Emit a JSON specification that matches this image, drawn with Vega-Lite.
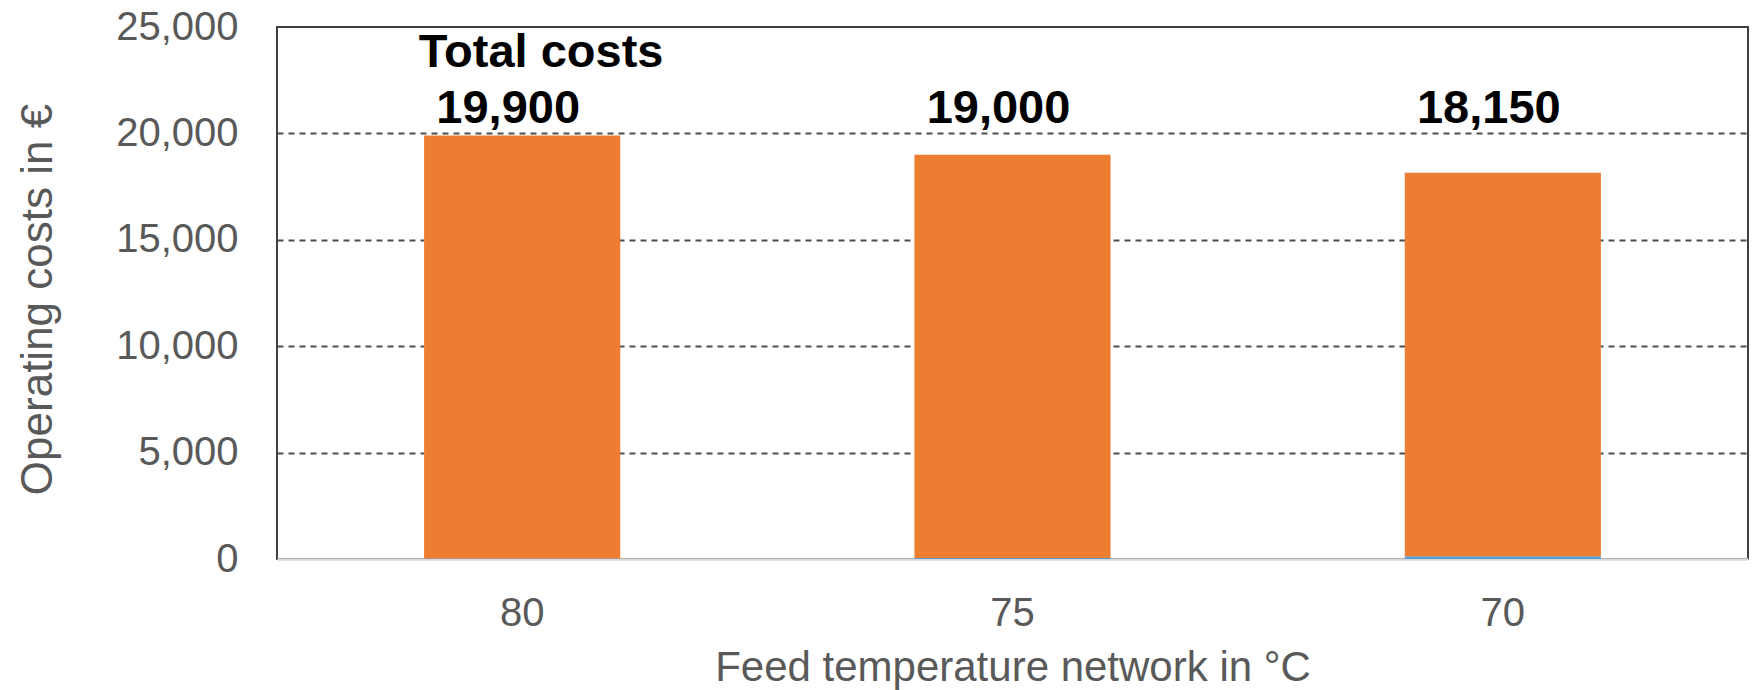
{
  "$schema": "https://vega.github.io/schema/vega-lite/v6.json",
  "width": 1471,
  "height": 532,
  "autosize": {"type": "none"},
  "padding": {"left": 277, "top": 27, "right": 11, "bottom": 131},
  "background": "white",
  "config": {
    "view": {"stroke": "#404040", "strokeWidth": 2},
    "font": "Liberation Sans"
  },
  "data": {
    "values": [
      {"temp": "80", "component": "Other", "cost": 20, "order": 1, "total": 19900},
      {"temp": "80", "component": "Heat", "cost": 19880, "order": 2, "total": 19900},
      {"temp": "75", "component": "Other", "cost": 50, "order": 1, "total": 19000},
      {"temp": "75", "component": "Heat", "cost": 18950, "order": 2, "total": 19000},
      {"temp": "70", "component": "Other", "cost": 125, "order": 1, "total": 18150},
      {"temp": "70", "component": "Heat", "cost": 18025, "order": 2, "total": 18150}
    ]
  },
  "layer": [
    {
      "mark": {"type": "bar"},
      "encoding": {
        "x": {
          "field": "temp", "type": "nominal", "sort": ["80", "75", "70"],
          "scale": {"paddingInner": 0.6, "paddingOuter": 0.3},
          "axis": {
            "title": "Feed temperature network in °C",
            "labelAngle": 0, "labelFontSize": 40, "labelColor": "#595959",
            "labelBaseline": "alphabetic", "labelPadding": 66,
            "ticks": false, "tickSize": 0, "grid": false,
            "domain": true, "domainColor": "#D9D9D9", "domainWidth": 2.5,
            "titleFontSize": 42, "titleFontWeight": "normal", "titleColor": "#595959",
            "titleBaseline": "alphabetic", "titleY": 121
          }
        },
        "y": {
          "field": "cost", "type": "quantitative", "stack": "zero",
          "scale": {"domain": [0, 25000], "nice": false},
          "axis": {
            "title": "Operating costs in €",
            "values": [0, 5000, 10000, 15000, 20000, 25000],
            "format": ",.0f",
            "grid": true, "gridDash": [6, 5], "gridColor": "#4d4d4d", "gridWidth": 1.8,
            "gridOpacity": {"condition": {"test": "datum.value == 0 || datum.value == 25000", "value": 0}, "value": 1},
            "domain": false, "ticks": false, "tickSize": 0,
            "labelFontSize": 40, "labelColor": "#595959", "labelPadding": 39, "labelAlign": "right",
            "titleFontSize": 44, "titleFontWeight": "normal", "titleColor": "#595959",
            "titleAngle": 270, "titleBaseline": "alphabetic", "titleX": -226, "titleY": 272
          }
        },
        "color": {
          "field": "component", "type": "nominal",
          "scale": {"domain": ["Heat", "Other"], "range": ["#ED7D31", "#5B9BD5"]},
          "legend": null
        },
        "order": {"field": "order", "type": "quantitative"}
      }
    },
    {
      "transform": [{"filter": "datum.order == 2"}],
      "mark": {"type": "text", "fontSize": 47, "fontWeight": "bold", "color": "black", "dx": -14, "baseline": "alphabetic", "align": "center"},
      "encoding": {
        "x": {"field": "temp", "type": "nominal", "sort": ["80", "75", "70"]},
        "y": {"datum": 20500, "type": "quantitative", "scale": {"domain": [0, 25000], "nice": false}},
        "text": {"field": "total", "type": "quantitative", "format": ",.0f"}
      }
    },
    {
      "transform": [{"filter": "datum.order == 2 && datum.temp == '80'"}],
      "mark": {"type": "text", "fontSize": 47, "fontWeight": "bold", "color": "black", "dx": 19, "baseline": "alphabetic", "align": "center"},
      "encoding": {
        "x": {"field": "temp", "type": "nominal", "sort": ["80", "75", "70"]},
        "y": {"datum": 23100, "type": "quantitative", "scale": {"domain": [0, 25000], "nice": false}},
        "text": {"value": "Total costs"}
      }
    }
  ]
}
